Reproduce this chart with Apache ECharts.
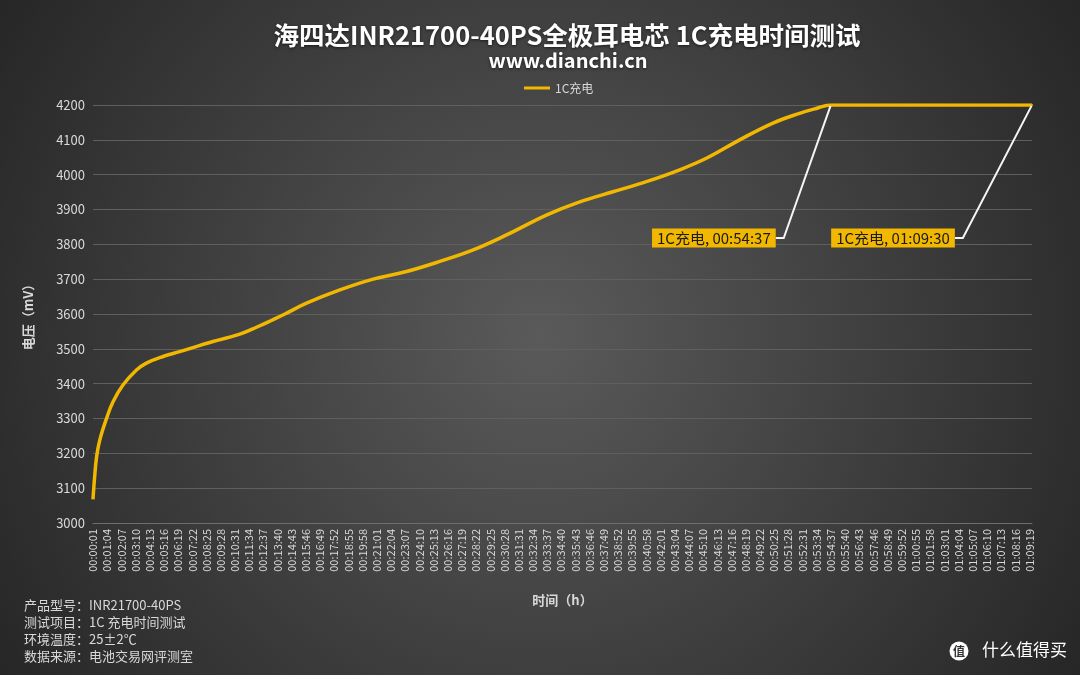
<!DOCTYPE html>
<html>
<head>
<meta charset="utf-8">
<title>海四达INR21700-40PS全极耳电芯 1C充电时间测试</title>
<script src="https://cdn.jsdelivr.net/npm/echarts@6/dist/echarts.min.js"></script>
<style>
  html, body { margin: 0; padding: 0; background: #262626; }
  #chart { width: 1080px; height: 675px; }
</style>
</head>
<body>
<div id="chart"></div>
<script>
// 采样时刻（秒）与电压（mV），读自原图
const timeSec = [1, 8, 17, 31, 61, 90, 134, 194, 238, 312, 386, 534, 653, 727, 801, 853, 949,
  1097, 1245, 1393, 1541, 1689, 1837, 2014, 2162, 2310, 2458, 2606, 2724, 2872, 3020,
  3138, 3212, 3277, 3710, 4170];
const voltageMv = [3068, 3130, 3190, 3238, 3300, 3348, 3396, 3439, 3459, 3478, 3492, 3521, 3542, 3562, 3584, 3600, 3631,
  3669, 3700, 3722, 3751, 3784, 3827, 3884, 3922, 3951, 3980, 4014, 4047, 4100, 4148,
  4176, 4190, 4200, 4200, 4200];

// 标注点：达到 4200 mV 的时刻、测试结束时刻
const calloutTimes = [3277, 4170];

const seriesName = "1C充电";
const startSec = 1;      // 横轴从 00:00:01 开始
const endSec = 4170;     // 01:09:30
const tickStepSec = 63;  // 每 63 秒一个刻度

const voltMin = 3000;
const voltMax = 4200;
const voltStep = 100;

const infoLines = [
  "产品型号：INR21700-40PS",
  "测试项目：1C 充电时间测试",
  "环境温度：25±2℃",
  "数据来源：电池交易网评测室",
];

const GOLD = "#f2b700";
const TEXT = "#d9d9d9";
const FONT = "'Noto Sans CJK SC', 'Noto Sans', sans-serif";

// label offsets (px) for the two callouts
const calloutShift = { 3277: [-117, 133], 4170: [-139, 133] };

const pad = (n) => String(n).padStart(2, "0");
const formatClock = (sec) => {
  const h = Math.floor(sec / 3600);
  const m = Math.floor((sec % 3600) / 60);
  const s = sec % 60;
  return `${pad(h)}:${pad(m)}:${pad(s)}`;
};

const seriesData = timeSec.map((t, i) => {
  const point = [t - startSec, voltageMv[i]];
  if (!calloutTimes.includes(t)) return point;
  return {
    value: point,
    symbol: "circle",
    symbolSize: 2,
    label: { show: true },
    labelLine: { show: true },
  };
});

const chart = echarts.init(document.getElementById("chart"), null, { renderer: "canvas" });

chart.setOption({
  animation: false,
  backgroundColor: {
    type: "radial",
    x: 0.5,
    y: 0.5,
    r: 0.95,
    colorStops: [
      { offset: 0, color: "#5a5a5a" },
      { offset: 1, color: "#262626" },
    ],
  },
  textStyle: { fontFamily: FONT },
  title: [
    {
      text: "海四达INR21700-40PS全极耳电芯 1C充电时间测试",
      left: 562,
      top: 18,
      textAlign: "center",
      textStyle: {
        color: "#ffffff",
        fontSize: 25.5,
        fontWeight: "bold",
        fontFamily: FONT,
        textShadowColor: "rgba(0,0,0,0.6)",
        textShadowBlur: 3,
        textShadowOffsetY: 1,
      },
    },
    {
      text: "www.dianchi.cn",
      left: 563,
      top: 45,
      textAlign: "center",
      textStyle: {
        color: "#ffffff",
        fontSize: 20,
        fontWeight: "bold",
        fontFamily: FONT,
        textShadowColor: "rgba(0,0,0,0.6)",
        textShadowBlur: 3,
        textShadowOffsetY: 1,
      },
    },
  ],
  legend: {
    data: [seriesName],
    left: 519,
    top: 77,
    icon: "rect",
    itemWidth: 26,
    itemHeight: 3,
    itemGap: 10,
    textStyle: { color: TEXT, fontSize: 12, fontFamily: FONT },
  },
  grid: { left: 93, right: 48, top: 105, bottom: 152 },
  xAxis: {
    type: "value",
    min: 0,
    max: endSec - startSec,
    interval: tickStepSec,
    name: "时间（h）",
    nameLocation: "middle",
    nameGap: 71,
    nameTextStyle: { color: TEXT, fontSize: 13, fontWeight: "bold", fontFamily: FONT },
    axisLine: { show: true, lineStyle: { color: "#6e6e6e", width: 1 } },
    axisTick: { show: false },
    splitLine: { show: false },
    axisLabel: {
      rotate: 90,
      color: TEXT,
      fontSize: 11,
      margin: 6,
      showMaxLabel: false,
      fontFamily: FONT,
      formatter: (v) => formatClock(v + startSec),
    },
  },
  yAxis: {
    type: "value",
    min: voltMin,
    max: voltMax,
    interval: voltStep,
    name: "电压（mV）",
    nameLocation: "middle",
    nameGap: 58,
    nameTextStyle: { color: TEXT, fontSize: 13, fontWeight: "bold", fontFamily: FONT },
    axisLine: { show: false },
    axisTick: { show: false },
    axisLabel: {
      color: TEXT,
      fontSize: 13,
      margin: 8,
      fontFamily: FONT,
      formatter: (v) => String(v),
    },
    splitLine: { lineStyle: { color: "#5f5f5f", width: 1 } },
  },
  series: [
    {
      name: seriesName,
      type: "line",
      data: seriesData,
      smooth: 0.4,
      symbol: "none",
      lineStyle: { color: GOLD, width: 3.5 },
      itemStyle: { color: GOLD },
      emphasis: { disabled: true },
      label: {
        show: false,
        position: "inside",
        color: "#1a1a1a",
        fontSize: 15,
        fontFamily: FONT,
        backgroundColor: GOLD,
        padding: [2, 5],
        formatter: (p) => `${p.seriesName}, ${formatClock(p.value[0] + startSec)}`,
      },
      labelLine: {
        show: false,
        length2: 8,
        lineStyle: { color: "#f5f5f5", width: 2 },
      },
      labelLayout: (params) => {
        const shift = calloutShift[timeSec[params.dataIndex]] || [0, 0];
        return { dx: shift[0], dy: shift[1] };
      },
    },
  ],
  graphic: [
    {
      type: "text",
      left: 24,
      top: 597,
      style: {
        text: infoLines.join("\n"),
        fill: TEXT,
        font: `13px ${FONT}`,
        lineHeight: 17,
      },
    },
    {
      type: "circle",
      shape: { cx: 959, cy: 651, r: 9.5 },
      style: { fill: "#ffffff" },
    },
    {
      type: "text",
      x: 959,
      y: 651,
      style: {
        text: "值",
        fill: "#333333",
        font: `bold 12px ${FONT}`,
        align: "center",
        verticalAlign: "middle",
      },
    },
    {
      type: "text",
      left: 982,
      top: 641,
      style: { text: "什么值得买", fill: "#ffffff", font: `17px ${FONT}` },
    },
  ],
});
</script>
</body>
</html>
